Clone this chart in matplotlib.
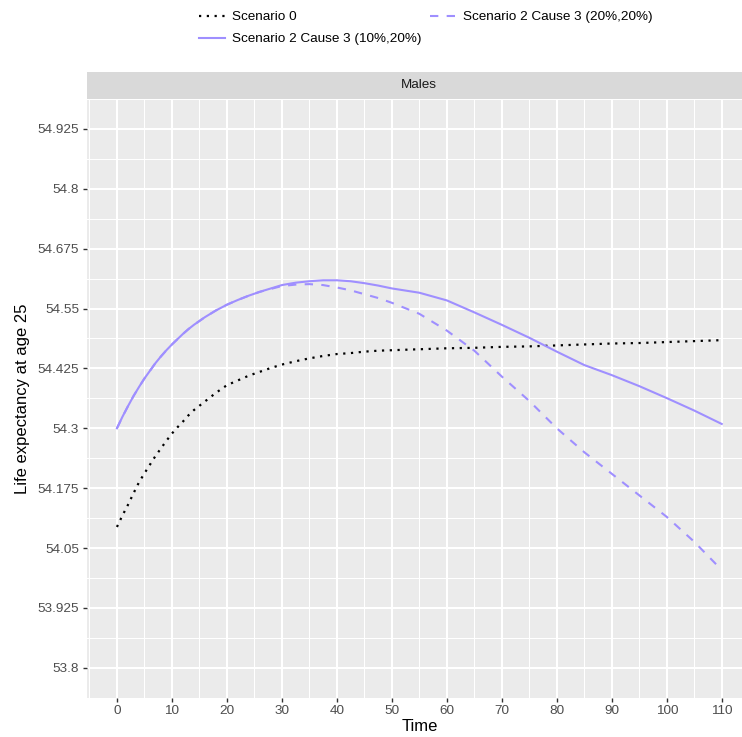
import matplotlib
matplotlib.use("Agg")
import matplotlib.pyplot as plt

plt.rcParams['font.family'] = ['Liberation Sans', 'DejaVu Sans']

# datos
tiempo = [0, 1, 2, 3, 4, 5, 6, 7, 8, 9, 10, 11, 12, 13, 14, 15, 16, 17, 18, 19, 20,
          22, 24, 26, 28, 30, 32.5, 35, 37.5, 40, 42.5, 45, 47.5, 50,
          55, 60, 65, 70, 75, 80, 85, 90, 95, 100, 105, 110]
esc0 = [54.094, 54.118, 54.140, 54.164, 54.187, 54.206, 54.224, 54.242, 54.258, 54.274,
        54.289, 54.302, 54.314, 54.327, 54.338, 54.347, 54.356, 54.365, 54.374, 54.382,
        54.390, 54.400, 54.410, 54.418, 54.426, 54.433, 54.440, 54.446, 54.451, 54.455,
        54.457, 54.460, 54.462, 54.463, 54.465, 54.467, 54.468, 54.470, 54.471, 54.473,
        54.475, 54.477, 54.478, 54.480, 54.482, 54.484]
esc2_10 = [54.300, 54.324, 54.346, 54.367, 54.386, 54.404, 54.420, 54.436, 54.450, 54.463,
           54.475, 54.486, 54.497, 54.507, 54.516, 54.524, 54.532, 54.539, 54.546, 54.552,
           54.558, 54.568, 54.577, 54.585, 54.592, 54.599, 54.604, 54.607, 54.609, 54.609,
           54.607, 54.603, 54.598, 54.592, 54.583, 54.567, 54.542, 54.516, 54.489, 54.460,
           54.432, 54.411, 54.388, 54.363, 54.337, 54.309]
esc2_20 = [54.300, 54.324, 54.346, 54.367, 54.386, 54.404, 54.420, 54.436, 54.450, 54.463,
           54.475, 54.486, 54.497, 54.507, 54.516, 54.524, 54.532, 54.539, 54.546, 54.552,
           54.558, 54.568, 54.577, 54.585, 54.591, 54.597, 54.600, 54.601, 54.599, 54.594,
           54.588, 54.580, 54.572, 54.562, 54.539, 54.504, 54.462, 54.408, 54.357, 54.300,
           54.250, 54.205, 54.160, 54.115, 54.063, 54.004]
etiquetas = ['Scenario 0', 'Scenario 2 Cause 3 (10%,20%)', 'Scenario 2 Cause 3 (20%,20%)']

y_ticks = [53.8, 53.925, 54.05, 54.175, 54.3, 54.425, 54.55, 54.675, 54.8, 54.925]
y_labels = ['53.8', '53.925', '54.05', '54.175', '54.3', '54.425', '54.55', '54.675', '54.8', '54.925']
x_ticks = list(range(0, 111, 10))

color = '#9F8FFF'

fig = plt.figure(figsize=(7.42, 7.37), dpi=100)
ax = fig.add_axes([86.7 / 742, 39.3 / 737, 665.3 / 742, 598.7 / 737])
ax.set_facecolor('#EBEBEB')

l0, = ax.plot(tiempo, esc0, color='black', lw=1.6, dashes=(1, 2.5))
l1, = ax.plot(tiempo, esc2_10, color=color, lw=1.5)
l2, = ax.plot(tiempo, esc2_20, color=color, lw=1.5, dashes=(4, 4))

ax.set_xlim(-5.5, 115.5)
ax.set_ylim(53.74375, 54.98125)
ax.set_xticks(x_ticks)
ax.set_xticks([x + 5 for x in range(-10, 111, 10)], minor=True)
ax.set_yticks(y_ticks)
ax.set_yticklabels(y_labels)
ax.set_yticks([y + 0.0625 for y in [53.675] + y_ticks], minor=True)
ax.grid(which='major', color='white', lw=1.5)
ax.grid(which='minor', color='white', lw=0.75)
ax.set_axisbelow(True)
for s in ax.spines.values():
    s.set_visible(False)
ax.tick_params(which='major', length=3, width=1, color='#333333', labelcolor='#4D4D4D',
               labelsize=9.7, pad=2.5)
ax.tick_params(which='minor', length=0)

ax.set_xlabel('Time', fontsize=12, labelpad=1)
ax.set_ylabel('Life expectancy at age 25', fontsize=12, labelpad=5)

# franja "Males"
strip = fig.add_axes([86.7 / 742, 638.3 / 737, 665.3 / 742, 26.7 / 737])
strip.set_facecolor('#D9D9D9')
strip.set_xticks([])
strip.set_yticks([])
for s in strip.spines.values():
    s.set_visible(False)
strip.text(0.5, 0.5, 'Males', ha='center', va='center', fontsize=9.7, color='#1A1A1A',
           transform=strip.transAxes)

fig.legend([l0, l1, l2], etiquetas, ncol=2, loc='upper center',
           bbox_to_anchor=(0.5735, 1 - 11 / 737), frameon=False, fontsize=9.7,
           handlelength=1.95, handletextpad=0.5, columnspacing=0.6,
           labelspacing=0.7, borderpad=0, borderaxespad=0)

fig.savefig('out.png', dpi=100)
